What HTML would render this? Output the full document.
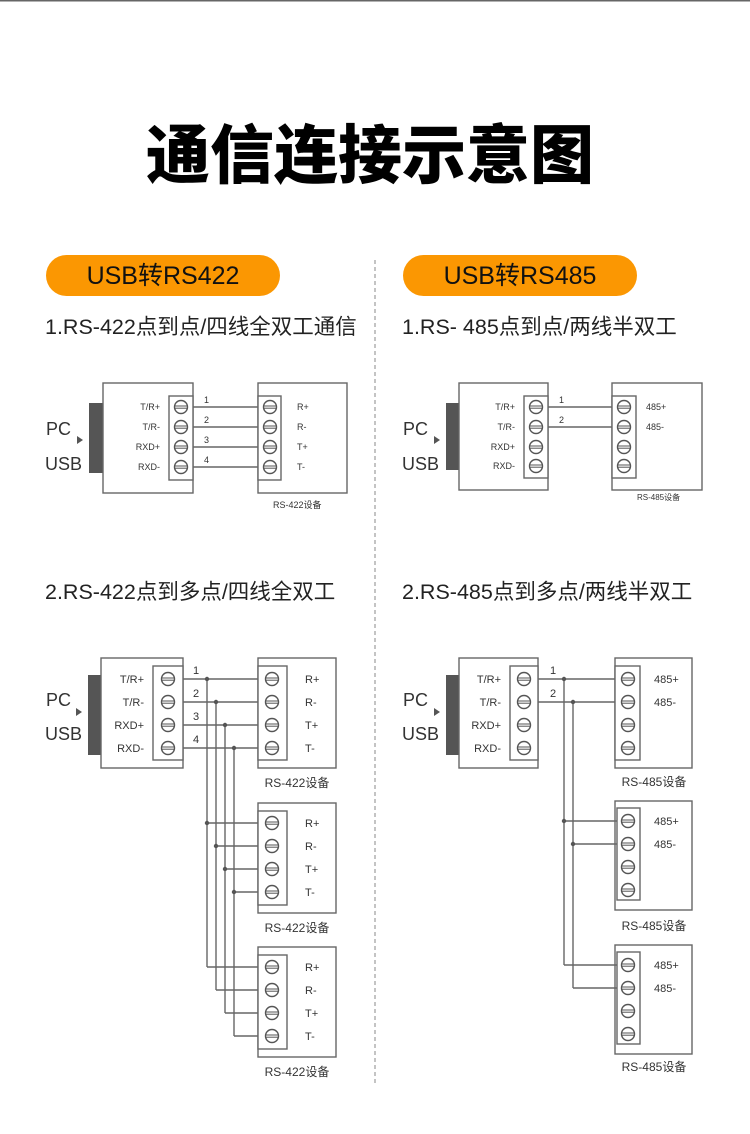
<!DOCTYPE html>
<html><head><meta charset="utf-8"><style>
body{margin:0;background:#fff;}
svg{display:block;font-family:"Liberation Sans","Noto Sans CJK SC",sans-serif;}
</style></head><body>
<svg width="750" height="1134" viewBox="0 0 750 1134" xmlns="http://www.w3.org/2000/svg">
<defs>
<g id="s"><circle r="6.5" fill="#fff" stroke="#555" stroke-width="1.4"/><line x1="-6" y1="-1" x2="6" y2="-1" stroke="#555" stroke-width="1"/><line x1="-6" y1="1.2" x2="6" y2="1.2" stroke="#555" stroke-width="1"/></g>
</defs>
<rect x="0" y="0" width="750" height="1.5" fill="#666"/>
<text x="370" y="178" text-anchor="middle" font-size="64" font-weight="900" fill="#000" font-family="'Noto Sans CJK SC',sans-serif">通信连接示意图</text>
<rect x="46" y="255" width="234" height="41" rx="20.5" fill="#fb9702"/>
<rect x="403" y="255" width="234" height="41" rx="20.5" fill="#fb9702"/>
<text x="163" y="284" text-anchor="middle" font-size="25" fill="#111">USB转RS422</text>
<text x="520" y="284" text-anchor="middle" font-size="25" fill="#111">USB转RS485</text>
<line x1="375" y1="260" x2="375" y2="1085" stroke="#888" stroke-dasharray="4,3" stroke-width="1"/>
<text x="45" y="334" font-size="21.5" fill="#222">1.RS-422点到点/四线全双工通信</text>
<text x="402" y="334" font-size="21.5" fill="#222">1.RS- 485点到点/两线半双工</text>
<text x="45" y="599" font-size="21.5" fill="#222">2.RS-422点到多点/四线全双工</text>
<text x="402" y="599" font-size="21.5" fill="#222">2.RS-485点到多点/两线半双工</text>

<g stroke="#666" stroke-width="1.4" fill="#fff">
<rect x="89" y="403" width="14" height="70" fill="#555" stroke="none"/>
<rect x="103" y="383" width="90" height="110"/>
<rect x="169" y="396" width="24" height="84"/>
<rect x="258" y="383" width="89" height="110"/>
<rect x="258" y="396" width="23" height="84"/>
<path d="M193 407H258M193 427H258M193 447H258M193 467H258" fill="none"/>
<rect x="446" y="403" width="13" height="67" fill="#555" stroke="none"/>
<rect x="459" y="383" width="89" height="107"/>
<rect x="524" y="396" width="24" height="82"/>
<rect x="612" y="383" width="90" height="107"/>
<rect x="612" y="396" width="24" height="82"/>
<path d="M548 407H612M548 427H612" fill="none"/>
<rect x="88" y="675" width="13" height="80" fill="#555" stroke="none"/>
<rect x="101" y="658" width="82" height="110"/>
<rect x="153" y="666" width="30" height="94"/>
<rect x="258" y="658" width="78" height="110"/>
<rect x="258" y="666" width="29" height="94"/>
<rect x="258" y="803" width="78" height="110"/>
<rect x="258" y="811" width="29" height="94"/>
<rect x="258" y="947" width="78" height="110"/>
<rect x="258" y="955" width="29" height="94"/>
<path d="M183 679H258M183 702H258M183 725H258M183 748H258M207 679V967M216 702V990M225 725V1013M234 748V1036M207 823H258M216 846H258M225 869H258M234 892H258M207 967H258M216 990H258M225 1013H258M234 1036H258" fill="none"/>
<rect x="446" y="675" width="13" height="80" fill="#555" stroke="none"/>
<rect x="459" y="658" width="79" height="110"/>
<rect x="510" y="666" width="28" height="94"/>
<rect x="615" y="658" width="77" height="110"/>
<rect x="615" y="666" width="25" height="94"/>
<rect x="615" y="801" width="77" height="109"/>
<rect x="617" y="808" width="23" height="92"/>
<rect x="615" y="945" width="77" height="109"/>
<rect x="617" y="952" width="23" height="92"/>
<path d="M538 679H615M538 702H615M564 679V965M573 702V988M564 821H617M573 844H617M564 965H617M573 988H617" fill="none"/>
</g>
<g fill="#555">
<circle cx="207" cy="679" r="2.2"/><circle cx="216" cy="702" r="2.2"/><circle cx="225" cy="725" r="2.2"/><circle cx="234" cy="748" r="2.2"/>
<circle cx="207" cy="823" r="2.2"/><circle cx="216" cy="846" r="2.2"/><circle cx="225" cy="869" r="2.2"/><circle cx="234" cy="892" r="2.2"/>
<circle cx="564" cy="679" r="2.2"/><circle cx="573" cy="702" r="2.2"/><circle cx="564" cy="821" r="2.2"/><circle cx="573" cy="844" r="2.2"/>
<path d="M77 436L83 440L77 444Z"/><path d="M434 436L440 440L434 444Z"/>
<path d="M76 708L82 712L76 716Z"/><path d="M434 708L440 712L434 716Z"/>
</g>
<use href="#s" x="181" y="407"/><use href="#s" x="181" y="427"/><use href="#s" x="181" y="447"/><use href="#s" x="181" y="467"/>
<use href="#s" x="270" y="407"/><use href="#s" x="270" y="427"/><use href="#s" x="270" y="447"/><use href="#s" x="270" y="467"/>
<use href="#s" x="536" y="407"/><use href="#s" x="536" y="427"/><use href="#s" x="536" y="447"/><use href="#s" x="536" y="466"/>
<use href="#s" x="624" y="407"/><use href="#s" x="624" y="427"/><use href="#s" x="624" y="447"/><use href="#s" x="624" y="466"/>
<use href="#s" x="168" y="679"/><use href="#s" x="168" y="702"/><use href="#s" x="168" y="725"/><use href="#s" x="168" y="748"/>
<use href="#s" x="272" y="679"/><use href="#s" x="272" y="702"/><use href="#s" x="272" y="725"/><use href="#s" x="272" y="748"/>
<use href="#s" x="272" y="823"/><use href="#s" x="272" y="846"/><use href="#s" x="272" y="869"/><use href="#s" x="272" y="892"/>
<use href="#s" x="272" y="967"/><use href="#s" x="272" y="990"/><use href="#s" x="272" y="1013"/><use href="#s" x="272" y="1036"/>
<use href="#s" x="524" y="679"/><use href="#s" x="524" y="702"/><use href="#s" x="524" y="725"/><use href="#s" x="524" y="748"/>
<use href="#s" x="628" y="679"/><use href="#s" x="628" y="702"/><use href="#s" x="628" y="725"/><use href="#s" x="628" y="748"/>
<use href="#s" x="628" y="821"/><use href="#s" x="628" y="844"/><use href="#s" x="628" y="867"/><use href="#s" x="628" y="890"/>
<use href="#s" x="628" y="965"/><use href="#s" x="628" y="988"/><use href="#s" x="628" y="1011"/><use href="#s" x="628" y="1034"/>
<g fill="#333" font-size="18">
<text x="46" y="435">PC</text><text x="45" y="470">USB</text>
<text x="403" y="435">PC</text><text x="402" y="470">USB</text>
<text x="46" y="706">PC</text><text x="45" y="740">USB</text>
<text x="403" y="706">PC</text><text x="402" y="740">USB</text>
</g>
<g fill="#333" font-size="9" text-anchor="end">
<text x="160" y="410">T/R+</text><text x="160" y="430">T/R-</text><text x="160" y="450">RXD+</text><text x="160" y="470">RXD-</text>
<text x="515" y="410">T/R+</text><text x="515" y="430">T/R-</text><text x="515" y="450">RXD+</text><text x="515" y="469">RXD-</text>
</g>
<g fill="#333" font-size="11" text-anchor="end">
<text x="144" y="683">T/R+</text><text x="144" y="706">T/R-</text><text x="144" y="729">RXD+</text><text x="144" y="752">RXD-</text>
<text x="501" y="683">T/R+</text><text x="501" y="706">T/R-</text><text x="501" y="729">RXD+</text><text x="501" y="752">RXD-</text>
</g>
<g fill="#333" font-size="9">
<text x="297" y="410">R+</text><text x="297" y="430">R-</text><text x="297" y="450">T+</text><text x="297" y="470">T-</text>
<text x="646" y="410">485+</text><text x="646" y="430">485-</text>
<text x="204" y="403">1</text><text x="204" y="423">2</text><text x="204" y="443">3</text><text x="204" y="463">4</text>
<text x="559" y="403">1</text><text x="559" y="423">2</text>
<text x="273" y="508">RS-422设备</text>
<text x="637" y="500" font-size="8">RS-485设备</text>
</g>
<g fill="#333" font-size="11">
<text x="305" y="683">R+</text><text x="305" y="706">R-</text><text x="305" y="729">T+</text><text x="305" y="752">T-</text>
<text x="305" y="827">R+</text><text x="305" y="850">R-</text><text x="305" y="873">T+</text><text x="305" y="896">T-</text>
<text x="305" y="971">R+</text><text x="305" y="994">R-</text><text x="305" y="1017">T+</text><text x="305" y="1040">T-</text>
<text x="654" y="683">485+</text><text x="654" y="706">485-</text>
<text x="654" y="825">485+</text><text x="654" y="848">485-</text>
<text x="654" y="969">485+</text><text x="654" y="992">485-</text>
<text x="193" y="674">1</text><text x="193" y="697">2</text><text x="193" y="720">3</text><text x="193" y="743">4</text>
<text x="550" y="674">1</text><text x="550" y="697">2</text>
</g>
<g fill="#333" font-size="12" text-anchor="middle">
<text x="297" y="787">RS-422设备</text><text x="297" y="932">RS-422设备</text><text x="297" y="1076">RS-422设备</text>
<text x="654" y="786">RS-485设备</text><text x="654" y="930">RS-485设备</text><text x="654" y="1071">RS-485设备</text>
</g>
</svg>
</body></html>
